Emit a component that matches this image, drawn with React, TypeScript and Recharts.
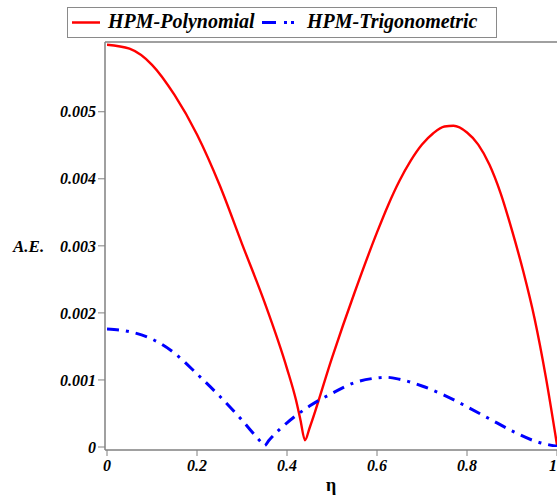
import React from 'react';
import { LineChart, Line, XAxis, YAxis, Legend, ReferenceLine, Label } from 'recharts';

// HPM-Polynomial absolute error
const polyEta = [0, 0.05, 0.1, 0.15, 0.2, 0.25, 0.3, 0.35, 0.4, 0.42, 0.43, 0.44, 0.45, 0.5, 0.55, 0.6, 0.625, 0.65, 0.675, 0.7, 0.725, 0.75, 0.77, 0.8, 0.825, 0.85, 0.875, 0.9, 0.925, 0.95, 0.975, 1.0];
const polyAE = [0.006, 0.00594, 0.0057, 0.00525, 0.00466, 0.00391, 0.00303, 0.00216, 0.00117, 0.0007, 0.0004, 0.0001, 0.00028, 0.00133, 0.0023, 0.0032, 0.00361, 0.00397, 0.00427, 0.00451, 0.00468, 0.00478, 0.00479, 0.00469, 0.00451, 0.00421, 0.00378, 0.00323, 0.00262, 0.00192, 0.00105, 0.00003];

// HPM-Trigonometric absolute error
const trigEta = [0, 0.05, 0.1, 0.15, 0.2, 0.25, 0.3, 0.34, 0.35, 0.36, 0.4, 0.45, 0.5, 0.55, 0.6, 0.62, 0.65, 0.7, 0.75, 0.8, 0.85, 0.9, 0.95, 1.0];
const trigAE = [0.00176, 0.00172, 0.00161, 0.0014, 0.00109, 0.00076, 0.0004, 0.00009, 0.00002, 0.0001, 0.00036, 0.00061, 0.0008, 0.00096, 0.00103, 0.00104, 0.00101, 0.00091, 0.00077, 0.0006, 0.00042, 0.00024, 0.00009, 0.00001];

const xTicks = [0, 0.2, 0.4, 0.6, 0.8, 1];
const yTicks = [0, 0.001, 0.002, 0.003, 0.004, 0.005];
const yTop = 0.00604;

const seriesNames = ['HPM-Polynomial', 'HPM-Trigonometric'];

const polyData = polyEta.map((eta, i) => ({ eta, ae: polyAE[i] }));
const trigData = trigEta.map((eta, i) => ({ eta, ae: trigAE[i] }));

const FONT = 'Liberation Serif';
const AXIS = '#808080';

const textStyle = { fontFamily: FONT, fontWeight: 700, fontStyle: 'italic' } as React.CSSProperties;

const tickStyle = {
  fill: '#000',
  fontSize: 16,
  style: textStyle,
};

function LegendBox() {
  return (
    <svg width={430} height={31} style={{ display: 'block' }}>
      <rect x={0.5} y={0.5} width={429} height={30} fill="#fff" stroke="#8a8a8a" strokeWidth={1} />
      <line x1={5} x2={33} y1={15.5} y2={15.5} stroke="#ff0000" strokeWidth={2.5} />
      <text x={41} y={21} fontSize={20} fill="#000" style={textStyle}>
        {seriesNames[0]}
      </text>
      <line x1={195} x2={231} y1={15.5} y2={15.5} stroke="#0000ff" strokeWidth={3} strokeDasharray="14 8 3 4 3 40" />
      <text x={240} y={21} fontSize={20} fill="#000" style={textStyle}>
        {seriesNames[1]}
      </text>
    </svg>
  );
}

export default function App() {
  return (
    <div style={{ position: 'absolute', left: 0, top: 0, background: '#fff', fontFamily: FONT }}>
      <LineChart width={557} height={497} margin={{ top: 42, right: 0, bottom: 0, left: 0 }}>
        <XAxis
          dataKey="eta"
          type="number"
          domain={[0, 1]}
          ticks={xTicks}
          allowDataOverflow
          padding={{ left: 2, right: 0 }}
          height={47}
          tickSize={6}
          tickMargin={4}
          axisLine={{ stroke: AXIS, strokeWidth: 1.5 }}
          tickLine={{ stroke: AXIS }}
          tick={tickStyle}
        >
          <Label value="η" position="insideBottom" offset={6} fill="#000" fontSize={18} style={{ fontFamily: FONT, fontWeight: 700 }} />
        </XAxis>
        <YAxis
          type="number"
          domain={[0, yTop]}
          ticks={yTicks}
          allowDataOverflow
          width={105}
          padding={{ top: 0, bottom: 3 }}
          tickSize={7}
          tickMargin={2}
          axisLine={{ stroke: AXIS, strokeWidth: 1.5 }}
          tickLine={{ stroke: AXIS }}
          tick={tickStyle}
        >
          <Label value="A.E." position="insideLeft" offset={13} angle={0} fill="#000" fontSize={17} style={textStyle} />
        </YAxis>
        <ReferenceLine y={yTop} stroke={AXIS} strokeWidth={1.5} />
        <Legend
          layout="horizontal"
          verticalAlign="middle"
          align="center"
          content={<LegendBox />}
          wrapperStyle={{ position: 'absolute', top: 7, left: 67, width: 430, height: 31 }}
        />
        <Line
          data={polyData}
          dataKey="ae"
          name={seriesNames[0]}
          type="monotone"
          stroke="#ff0000"
          strokeWidth={2.4}
          dot={false}
          isAnimationActive={false}
        />
        <Line
          data={trigData}
          dataKey="ae"
          name={seriesNames[1]}
          type="monotone"
          stroke="#0000ff"
          strokeWidth={3}
          strokeDasharray="12 7 3 7"
          dot={false}
          isAnimationActive={false}
        />
      </LineChart>
    </div>
  );
}
